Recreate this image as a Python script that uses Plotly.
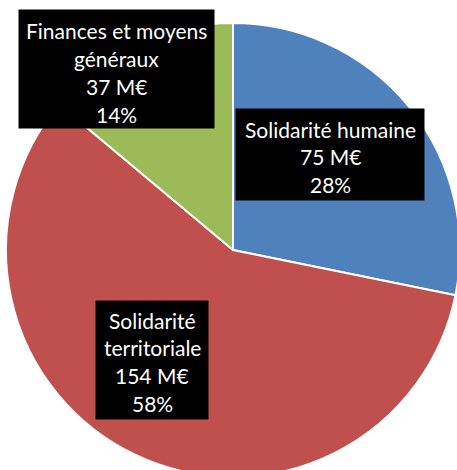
import plotly.graph_objects as go

categories = ["Solidarité humaine", "Solidarité territoriale", "Finances et moyens généraux"]
values = [75, 154, 37]
label_lines = [
    ["Solidarité humaine", "75 M€", "28%"],
    ["Solidarité", "territoriale", "154 M€", "58%"],
    ["Finances et moyens", "généraux", "37 M€", "14%"],
]
colors = ["#4F81BD", "#C0504D", "#9BBB59"]

W, H = 460, 480
cx, cy, r = 233, 250, 227

fig = go.Figure(go.Pie(
    labels=categories, values=values, sort=False, direction="clockwise", rotation=0,
    marker=dict(colors=colors, line=dict(color="white", width=2)),
    textinfo="none", hoverinfo="skip", showlegend=False,
    domain=dict(x=[(cx - r) / W, min(1, (cx + r) / W)], y=[(H - cy - r) / H, (H - cy + r) / H]),
))

# label boxes: (left, top, right, bottom) and first line center, in px
boxes = [
    (236, 109, 424, 200, 129),
    (96, 301, 208, 419, 320),
    (19, 10, 214, 128, 31),
]
pitch = 27.8
FONT = "Lato"
for (l, t, rr, b, y0), lines in zip(boxes, label_lines):
    fig.add_annotation(x=(l + rr) / 2 / W, y=1 - (t + b) / 2 / H, xref="paper", yref="paper",
                       text="", showarrow=False, width=rr - l, height=b - t,
                       bgcolor="black", borderpad=0, xanchor="center", yanchor="middle")
    for i, line in enumerate(lines):
        fig.add_annotation(x=(l + rr) / 2 / W, y=1 - (y0 + i * pitch) / H, xref="paper", yref="paper",
                           text=line, showarrow=False, xanchor="center", yanchor="middle",
                           font=dict(family=FONT, size=21, color="white"))

fig.update_layout(width=W, height=H, margin=dict(l=0, r=0, t=0, b=0),
                  paper_bgcolor="white", plot_bgcolor="white")
fig.write_html("out.html", config={"displayModeBar": False},
               post_script="document.body.style.margin='0';document.body.style.overflow='hidden';")
